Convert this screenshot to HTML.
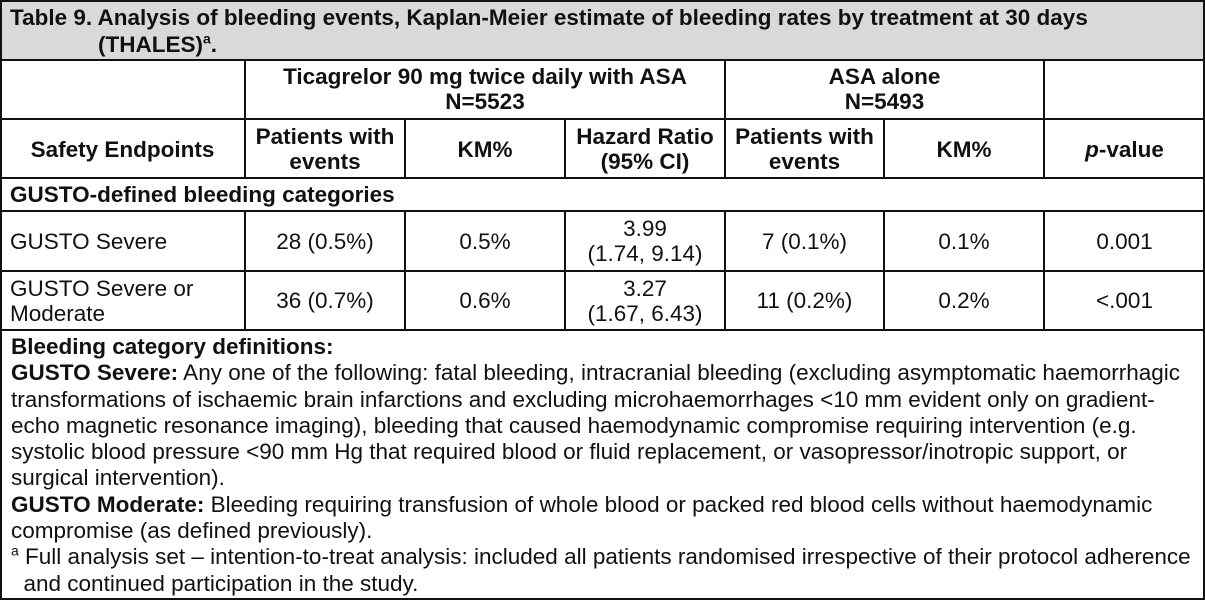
<!DOCTYPE html>
<html><head><meta charset="utf-8"><style>
body{margin:0;width:1205px;height:600px;overflow:hidden;background:#fff;font-family:"Liberation Sans",Arial,sans-serif;color:#111;}
.c{position:absolute;box-sizing:border-box;font-size:22.5px;line-height:25px;display:flex;align-items:center;justify-content:center;text-align:center;white-space:nowrap;}
.b{font-weight:bold}
.l{justify-content:flex-start;text-align:left;padding-left:10px}
.h{position:absolute;background:#111}
</style></head><body>
<div class="c b l" style="left:0;top:0;width:1205px;height:60px;background:#d9d9d9;padding-top:4px;display:block;line-height:27px">Table 9. Analysis of bleeding events, Kaplan-Meier estimate of bleeding rates by treatment at 30 days<br><span style="padding-left:88px">(THALES)<sup style="font-size:14px;line-height:0">a</sup>.</span></div>

<div class="c b" style="left:245px;top:60px;width:480px;height:60px;align-items:flex-start;padding-top:4px">Ticagrelor 90 mg twice daily with ASA<br>N=5523</div>
<div class="c b" style="left:725px;top:60px;width:319px;height:60px;align-items:flex-start;padding-top:4px">ASA alone<br>N=5493</div>

<div class="c b" style="left:0;top:119px;width:245px;height:60px">Safety Endpoints</div>
<div class="c b" style="left:245px;top:119px;width:160px;height:60px">Patients with<br>events</div>
<div class="c b" style="left:405px;top:119px;width:160px;height:60px">KM%</div>
<div class="c b" style="left:565px;top:119px;width:160px;height:60px">Hazard Ratio<br>(95% CI)</div>
<div class="c b" style="left:725px;top:119px;width:159px;height:60px">Patients with<br>events</div>
<div class="c b" style="left:884px;top:119px;width:160px;height:60px">KM%</div>
<div class="c b" style="left:1044px;top:119px;width:161px;height:60px"><span><i>p</i>-value</span></div>

<div class="c b l" style="left:0;top:178px;width:1205px;height:33px">GUSTO-defined bleeding categories</div>

<div class="c l" style="left:0;top:211px;width:245px;height:60px">GUSTO Severe</div>
<div class="c" style="left:245px;top:211px;width:160px;height:60px">28 (0.5%)</div>
<div class="c" style="left:405px;top:211px;width:160px;height:60px">0.5%</div>
<div class="c" style="left:565px;top:211px;width:160px;height:60px">3.99<br>(1.74, 9.14)</div>
<div class="c" style="left:725px;top:211px;width:159px;height:60px">7 (0.1%)</div>
<div class="c" style="left:884px;top:211px;width:160px;height:60px">0.1%</div>
<div class="c" style="left:1044px;top:211px;width:161px;height:60px">0.001</div>

<div class="c l" style="left:0;top:271px;width:245px;height:59px;text-align:left">GUSTO Severe or<br>Moderate</div>
<div class="c" style="left:245px;top:271px;width:160px;height:59px">36 (0.7%)</div>
<div class="c" style="left:405px;top:271px;width:160px;height:59px">0.6%</div>
<div class="c" style="left:565px;top:271px;width:160px;height:59px">3.27<br>(1.67, 6.43)</div>
<div class="c" style="left:725px;top:271px;width:159px;height:59px">11 (0.2%)</div>
<div class="c" style="left:884px;top:271px;width:160px;height:59px">0.2%</div>
<div class="c" style="left:1044px;top:271px;width:161px;height:59px">&lt;.001</div>

<div style="position:absolute;left:11px;top:334px;width:1200px;font-size:22.5px;line-height:26.3px;white-space:nowrap">
<b>Bleeding category definitions:</b><br>
<b>GUSTO Severe:</b> Any one of the following: fatal bleeding, intracranial bleeding (excluding asymptomatic haemorrhagic<br>
transformations of ischaemic brain infarctions and excluding microhaemorrhages &lt;10 mm evident only on gradient-<br>
echo magnetic resonance imaging), bleeding that caused haemodynamic compromise requiring intervention (e.g.<br>
systolic blood pressure &lt;90 mm Hg that required blood or fluid replacement, or vasopressor/inotropic support, or<br>
surgical intervention).<br>
<b>GUSTO Moderate:</b> Bleeding requiring transfusion of whole blood or packed red blood cells without haemodynamic<br>
compromise (as defined previously).<br>
<sup style="font-size:14px;line-height:0">a</sup> Full analysis set – intention-to-treat analysis: included all patients randomised irrespective of their protocol adherence<br>
&nbsp;&nbsp;and continued participation in the study.
</div>

<div class="h" style="left:0;top:0;width:1205px;height:2px"></div>
<div class="h" style="left:0;top:59px;width:1205px;height:2px"></div>
<div class="h" style="left:0;top:118px;width:1205px;height:2px"></div>
<div class="h" style="left:0;top:177px;width:1205px;height:2px"></div>
<div class="h" style="left:0;top:210px;width:1205px;height:2px"></div>
<div class="h" style="left:0;top:270px;width:1205px;height:2px"></div>
<div class="h" style="left:0;top:329px;width:1205px;height:2px"></div>
<div class="h" style="left:0;top:598px;width:1205px;height:2px"></div>
<div class="h" style="left:0;top:0;width:2px;height:600px"></div>
<div class="h" style="left:1203px;top:0;width:2px;height:600px"></div>
<div class="h" style="left:244px;top:59px;width:2px;height:120px"></div>
<div class="h" style="left:244px;top:210px;width:2px;height:121px"></div>
<div class="h" style="left:724px;top:59px;width:2px;height:120px"></div>
<div class="h" style="left:724px;top:210px;width:2px;height:121px"></div>
<div class="h" style="left:1043px;top:59px;width:2px;height:120px"></div>
<div class="h" style="left:1043px;top:210px;width:2px;height:121px"></div>
<div class="h" style="left:404px;top:118px;width:2px;height:61px"></div>
<div class="h" style="left:404px;top:210px;width:2px;height:121px"></div>
<div class="h" style="left:564px;top:118px;width:2px;height:61px"></div>
<div class="h" style="left:564px;top:210px;width:2px;height:121px"></div>
<div class="h" style="left:883px;top:118px;width:2px;height:61px"></div>
<div class="h" style="left:883px;top:210px;width:2px;height:121px"></div>
</body></html>
